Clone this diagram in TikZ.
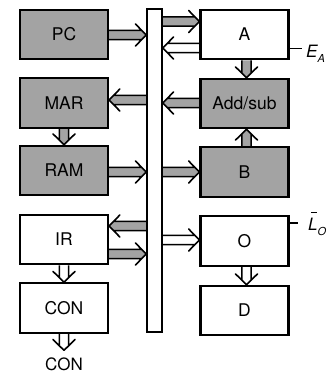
\documentclass[tikz,border=0pt]{standalone}
\usepackage{fontspec}
\setmainfont{TeX Gyre Heros}
\usetikzlibrary{calc,backgrounds}
\begin{document}
\begin{tikzpicture}[x=1pt,y=-1pt,
  box/.style={draw, line width=2.2pt, minimum width=88pt, minimum height=49.5pt, inner sep=0pt,
    font=\fontsize{17.5}{17.5}\selectfont},
  shade/.style={fill=black!36},
  busbar/.style={draw, line width=1.6pt, fill=white, minimum width=15pt, minimum height=323pt, inner sep=0pt},
  fat/.style={draw, line width=1.6pt, line join=round, to path={
    ($(\tikztostart)!4.6pt!90:(\tikztotarget)$) --
    ($(\tikztotarget)!6.43pt!-45.7:(\tikztostart)$) --
    ($(\tikztotarget)!15.4pt!-45.7:(\tikztostart)$) --
    (\tikztotarget) --
    ($(\tikztotarget)!15.4pt!45.7:(\tikztostart)$) --
    ($(\tikztotarget)!6.43pt!45.7:(\tikztostart)$) --
    ($(\tikztostart)!4.6pt!-90:(\tikztotarget)$)}},
  fatg/.style={fat, fill=black!36},
  fatw/.style={fat, fill=white},
  tick/.style={draw, line width=1.2pt},
  lbl/.style={anchor=base west, inner sep=0pt, font=\fontsize{17}{17}\selectfont\itshape},
]
\useasboundingbox (0,0) rectangle (330,373);

% bus
\node[busbar] (bus) at (154.5,170.5) {};

% left column
\node[box, shade] (pc)  at (64,34.5)  {PC};
\node[box, shade] (mar) at (64,103)   {MAR};
\node[box, shade] (ram) at (64,170.5) {RAM};
\node[box]        (ir)  at (64,239.5) {IR};
\node[box]        (con) at (64,308)   {CON};
\node[anchor=base, inner sep=0pt, outer ysep=7pt, font=\fontsize{17}{17}\selectfont] (conout) at (64,370) {CON};

% right column
\node[box]        (a)      at (244.5,34.5)  {A};
\node[box, shade] (addsub) at (244.5,103.5) {Add/sub};
\node[box, shade] (b)      at (244.5,172)   {B};
\node[box]        (o)      at (244.5,241)   {O};
\node[box]        (d)      at (244.5,310.5) {D};

% control labels
\node[lbl] (ea) at (306,57) {E\raisebox{-5pt}{\fontsize{11}{11}\selectfont A}};
\node[lbl] (lo) at (308,230) {\rlap{\hspace{3pt}\rule[17pt]{6pt}{1.1pt}}L\raisebox{-5pt}{\fontsize{11}{11}\selectfont O}};
\coordinate (eTick) at (301.5,48.5);
\coordinate (lTick) at (298,223);
\draw[tick] (a.east |- eTick) -- (eTick);
\draw[tick] (o.east |- lTick) -- (lTick);

% arrow levels
\coordinate (yPC) at (0,35);
\coordinate (yAin) at (0,21.5);
\coordinate (yAout) at (0,48);
\coordinate (yMAR) at (0,100);
\coordinate (yADD) at (0,103);
\coordinate (yRAM) at (0,172);
\coordinate (yB) at (0,172);
\coordinate (yIRin) at (0,226);
\coordinate (yIRout) at (0,254);
\coordinate (yO) at (0,240);
\coordinate (xL) at (64,0);
\coordinate (xR) at (246.5,0);

\begin{scope}[on background layer]
\path[fatg] (pc.east |- yPC) to (bus.west |- yPC);
\path[fatg] (bus.east |- yAin) to (a.west |- yAin);
\path[fatw] (a.west |- yAout) to (bus.east |- yAout);
\path[fatg] (bus.west |- yMAR) to (mar.east |- yMAR);
\path[fatg] (addsub.west |- yADD) to (bus.east |- yADD);
\path[fatg] (ram.east |- yRAM) to (bus.west |- yRAM);
\path[fatg] (bus.east |- yB) to (b.west |- yB);
\path[fatg] (bus.west |- yIRin) to (ir.east |- yIRin);
\path[fatg] (ir.east |- yIRout) to (bus.west |- yIRout);
\path[fatw] (bus.east |- yO) to (o.west |- yO);
\path[fatg] (a.south -| xR) to (addsub.north -| xR);
\path[fatg] (b.north -| xR) to (addsub.south -| xR);
\path[fatg] (mar.south -| xL) to (ram.north -| xL);
\path[fatw] (ir.south -| xL) to (con.north -| xL);
\path[fatw] (con.south -| xL) to (conout.north -| xL);
\path[fatw] (o.south -| xR) to (d.north -| xR);
\end{scope}
\end{tikzpicture}
\end{document}
